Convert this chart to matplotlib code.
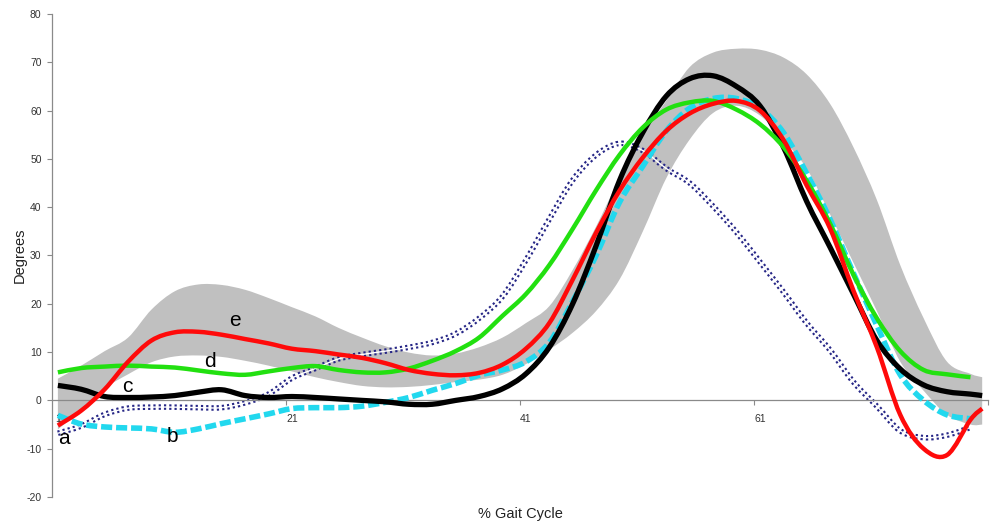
import matplotlib
matplotlib.use("Agg")
import matplotlib.pyplot as plt
import numpy as np
from matplotlib.path import Path
from matplotlib.patches import PathPatch

plt.rcParams['font.family'] = ['Liberation Sans', 'DejaVu Sans']
plt.rcParams['axes.unicode_minus'] = False

# --- data: knee angle (degrees) vs % gait cycle ---
cycle = list(range(1, 80, 2)) + [80]

# normal band (grey)
band_low = [-6, -2, 2.5, 5.4, 7.9, 9.1, 9.3, 9.0, 8.2, 7.2,
            6.0, 4.8, 3.8, 3.0, 2.7, 2.8, 3.2, 3.8, 4.3, 5.3,
            7.5, 10.5, 14, 18.5, 25, 35, 46, 54, 59.5, 61,
            59, 54, 48, 38.5, 28.5, 18.5, 8, 2, -3, -5, -5]
band_high = [4.5, 7.2, 10.2, 13, 18.8, 22.6, 24, 23.9, 22.9, 21.2,
             19.3, 17.4, 15, 13, 11.2, 9.9, 9.3, 9.7, 11, 13,
             16, 19.5, 27, 36, 46, 55, 62, 69, 72, 72.8,
             72.6, 71, 67.5, 61.4, 52.4, 41.5, 28, 17, 8, 5.5, 4.8]

# a - dotted navy
curve_a = [-6.8, -5.3, -2.9, -1.6, -1.4, -1.4, -1.5, -1.5, -0.5, 1.3,
           4.6, 6.6, 8.6, 9.5, 10.2, 11.0, 12.0, 13.8, 17, 21.5,
           29, 37.5, 45.6, 50.8, 53.2, 51.7, 48, 45, 40.2, 34.8,
           28.7, 22.5, 16, 10.4, 3.8, -1.2, -6.3, -7.7, -7.2, -5.6]
# b - dashed cyan
curve_b = [-3.1, -4.9, -5.5, -5.7, -5.9, -6.6, -5.9, -4.8, -3.8, -2.8,
           -1.7, -1.5, -1.5, -1.2, -0.4, 0.6, 2.1, 3.5, 5.2, 6.3,
           8, 12, 20.5, 30, 41, 48.5, 55.8, 60.5, 62.5, 62.5,
           60.5, 55.5, 47, 37.5, 26.3, 15.5, 5.3, 0, -3.0, -3.8]
# c - black
curve_c = [3.1, 2.3, 0.8, 0.6, 0.7, 1.0, 1.7, 2.2, 1.0, 0.6,
           0.8, 0.6, 0.3, 0.0, -0.3, -0.8, -0.8, 0.0, 0.8, 2.4,
           5.5, 11, 20, 32, 45.5, 55.5, 63, 66.6, 67.2, 65,
           61, 52.5, 41.2, 31.7, 22, 12.4, 6.5, 3.2, 1.8, 1.3, 1.0]
# d - green
curve_d = [5.8, 6.7, 7.0, 7.2, 7.0, 6.8, 6.2, 5.6, 5.3, 6.0,
           6.7, 7.1, 6.3, 5.8, 5.8, 6.6, 8.2, 10.2, 13, 17.5,
           22, 28, 35.5, 43.5, 50.8, 56.5, 60.2, 61.7, 62, 60.2,
           57.2, 52.5, 45.5, 36.6, 26, 17, 10.2, 6.3, 5.4, 4.8]
# e - red
curve_e = [-5.2, -2.1, 2.3, 8.0, 12.4, 14.1, 14.2, 13.6, 12.7, 11.8,
           10.7, 10.2, 9.5, 8.8, 7.7, 6.3, 5.5, 5.2, 5.7, 7.4,
           10.7, 16, 25, 34.7, 43.4, 50.3, 55.8, 59.4, 61.4, 62,
           60, 54, 44.5, 35.6, 22.7, 11, -3, -10, -11.3, -4, -1.7]

tick_cats = [1, 21, 41, 61]
tick_names = ["1", "21", "41", "61"]

# letter labels (x, y, text)
letters = [(1.5, -7.9, "a"), (10.8, -7.4, "b"), (6.9, 2.8, "c"),
           (14.0, 8.1, "d"), (16.1, 16.6, "e")]


def smooth_segments(xs, ys):
    # Excel-style "smoothed line": Catmull-Rom through the points as Beziers
    pts = np.column_stack([xs, ys]).astype(float)
    n = len(pts)
    verts, codes = [pts[0]], [Path.MOVETO]
    for i in range(n - 1):
        p0 = pts[i - 1] if i > 0 else pts[i]
        p1, p2 = pts[i], pts[i + 1]
        p3 = pts[i + 2] if i + 2 < n else pts[i + 1]
        verts += [p1 + (p2 - p0) / 6, p2 - (p3 - p1) / 6, p2]
        codes += [Path.CURVE4] * 3
    return verts, codes


def smooth_line(ax, xs, ys, **kw):
    verts, codes = smooth_segments(xs, ys)
    patch = PathPatch(Path(verts, codes), fill=False, **kw)
    ax.add_patch(patch)
    return patch


fig = plt.figure(figsize=(9.91, 5.23), dpi=100)
ax = fig.add_axes([0.0525, 0.0497, 0.9445, 0.9236])

# grey band as a closed smooth shape
v_hi, c_hi = smooth_segments(cycle, band_high)
v_lo, c_lo = smooth_segments(cycle[::-1], band_low[::-1])
verts = v_hi + v_lo + [v_hi[0]]
codes = c_hi + [Path.LINETO] + c_lo[1:] + [Path.CLOSEPOLY]
ax.add_patch(PathPatch(Path(verts, codes), facecolor="#c0c0c0",
                       edgecolor="none", zorder=1))

n = len(curve_a)
smooth_line(ax, cycle[:n], curve_a, edgecolor="#262686", lw=4.0,
            linestyle=(0, (0.4, 0.55)), zorder=2)
smooth_line(ax, cycle[:n], curve_a, edgecolor="white", lw=1.0, zorder=2.1)
smooth_line(ax, cycle[:len(curve_b)], curve_b, edgecolor="#22d8ee", lw=4.0,
            linestyle=(0, (2.0, 0.7)), zorder=3)
smooth_line(ax, cycle, curve_c, edgecolor="black", lw=3.8,
            joinstyle="round", zorder=4)
smooth_line(ax, cycle[:len(curve_d)], curve_d, edgecolor="#22e010", lw=3.2,
            joinstyle="round", zorder=5)
smooth_line(ax, cycle, curve_e, edgecolor="#ff0a0a", lw=3.2,
            joinstyle="round", zorder=6)

for x, y, s in letters:
    ax.text(x, y, s, fontsize=15, ha="center", va="center", zorder=7)

ax.set_xlim(0.5, 80.5)
ax.set_ylim(-20, 80)

for side in ["top", "right"]:
    ax.spines[side].set_visible(False)
ax.spines["bottom"].set_position(("data", 0))
ax.spines["bottom"].set_color("#8a8a8a")
ax.spines["left"].set_color("#8a8a8a")
ax.spines["bottom"].set_linewidth(0.9)
ax.spines["left"].set_linewidth(0.9)

ax.set_yticks(range(-20, 81, 10))
ax.tick_params(axis="y", length=3.5, width=0.8, color="#8a8a8a",
               labelsize=7.5, labelcolor="#333333", pad=4)

# tick marks between categories, labels on categories (Excel style)
ax.set_xticks([20.5, 40.5, 60.5, 80.5])
ax.set_xticklabels([])
ax.set_xticks(tick_cats, minor=True)
ax.set_xticklabels(tick_names, minor=True)
ax.tick_params(axis="x", which="major", length=3.5, width=0.8,
               color="#8a8a8a")
ax.tick_params(axis="x", which="minor", length=0, labelsize=7.5,
               labelcolor="#333333", pad=10)
ax.xaxis.set_zorder(1.5)

fig.text(520 / 991, 0.017, "% Gait Cycle", ha="center", va="center",
         fontsize=10.5, color="#222222")
fig.text(20 / 991, 0.512, "Degrees", ha="center", va="center",
         rotation=90, fontsize=10.5, color="#222222")

fig.savefig("out.png", dpi=100)
